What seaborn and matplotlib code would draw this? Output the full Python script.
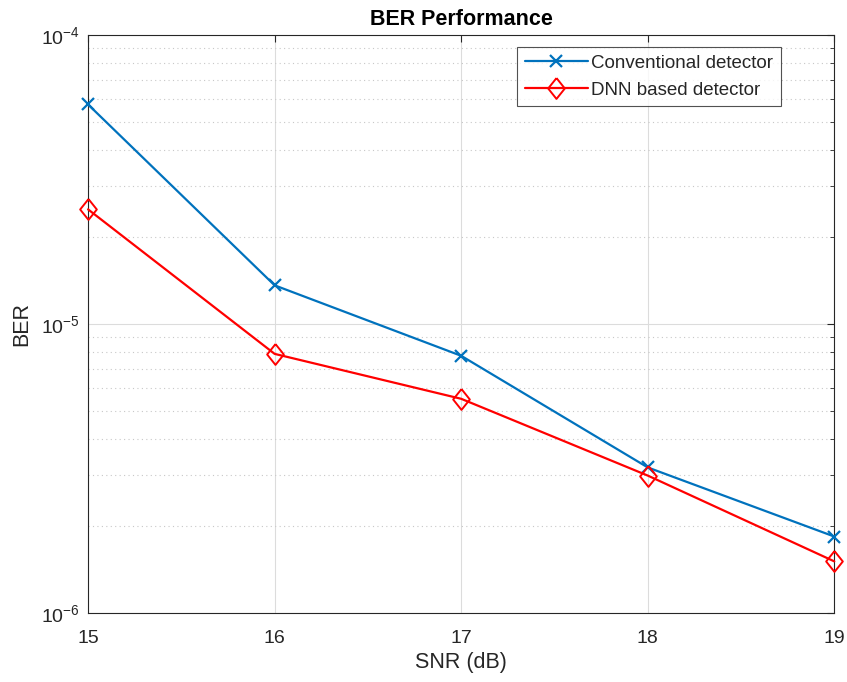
import math
import pandas as pd
import matplotlib.pyplot as plt
import seaborn as sns
from matplotlib.ticker import LogLocator, FixedLocator, FuncFormatter

sns.set_style("white")
plt.rcParams['font.family'] = ['Liberation Sans', 'DejaVu Sans']
plt.rcParams['mathtext.fontset'] = 'custom'
plt.rcParams['mathtext.rm'] = 'Liberation Sans'

# Data
snr = [15, 16, 17, 18, 19]
ber_conventional = [5.74e-5, 1.36e-5, 7.76e-6, 3.19e-6, 1.84e-6]
ber_dnn = [2.49e-5, 7.88e-6, 5.51e-6, 2.99e-6, 1.51e-6]
labels = ["Conventional detector", "DNN based detector"]

blue = '#0072BD'
red = '#FF0000'
# MATLAB-like diamond: a bit taller than wide
diamond = [(0, 1), (0.8, 0), (0, -1), (-0.8, 0), (0, 1)]

fig = plt.figure(figsize=(8.47, 6.82), dpi=100)
ax = fig.add_axes([0.104, 0.101, 0.881, 0.848])

sns.lineplot(x=snr, y=ber_conventional, ax=ax, color=blue, marker='x',
             markersize=9, markeredgewidth=1.6, markeredgecolor=blue,
             linewidth=1.6, label=labels[0], clip_on=False, zorder=3)
sns.lineplot(x=snr, y=ber_dnn, ax=ax, color=red, marker=diamond,
             markersize=15, markerfacecolor='none', markeredgecolor=red,
             markeredgewidth=1.4, linewidth=1.6, label=labels[1], clip_on=False, zorder=3)

ax.set_yscale('log')
ax.set_xlim(15, 19)
ax.set_ylim(1e-6, 1e-4)
ax.xaxis.set_major_locator(FixedLocator(snr))
ax.yaxis.set_major_locator(LogLocator(base=10, numticks=10))
ax.yaxis.set_major_formatter(FuncFormatter(
    lambda v, p: r'$\mathregular{10^{%d}}$' % round(math.log10(v))))
ax.yaxis.set_minor_locator(LogLocator(base=10, subs=range(2, 10), numticks=20))
ax.yaxis.set_minor_formatter(plt.NullFormatter())

ax.grid(True, which='major', color='#dcdcdc', linewidth=0.8, linestyle='-')
ax.grid(True, which='minor', axis='y', color='#c8c8c8', linewidth=0.8, linestyle=(0, (1, 3)))
ax.tick_params(which='both', direction='in', top=True, right=True, colors='#262626', labelsize=14)
ax.tick_params(axis='x', which='major', length=5, pad=12)
ax.tick_params(axis='y', which='major', length=5, pad=6)
ax.tick_params(which='minor', length=3)
for s in ax.spines.values():
    s.set_color('#262626')
    s.set_linewidth(0.8)

ax.set_xlabel('SNR (dB)', fontsize=15.5, color='#262626', labelpad=4)
ax.set_ylabel('BER', fontsize=15.5, color='#262626', labelpad=6)
ax.set_title('BER Performance', fontsize=15.5, fontweight='bold', color='black', pad=7)

leg = ax.legend(loc='upper right', bbox_to_anchor=(0.928, 0.979), fontsize=13.5,
                frameon=True, fancybox=False, edgecolor='#262626',
                borderpad=0.4, handlelength=3.4, handletextpad=0.15,
                labelspacing=0.55, borderaxespad=0)
leg.get_frame().set_linewidth(0.8)

fig.savefig('out.png', dpi=100)
